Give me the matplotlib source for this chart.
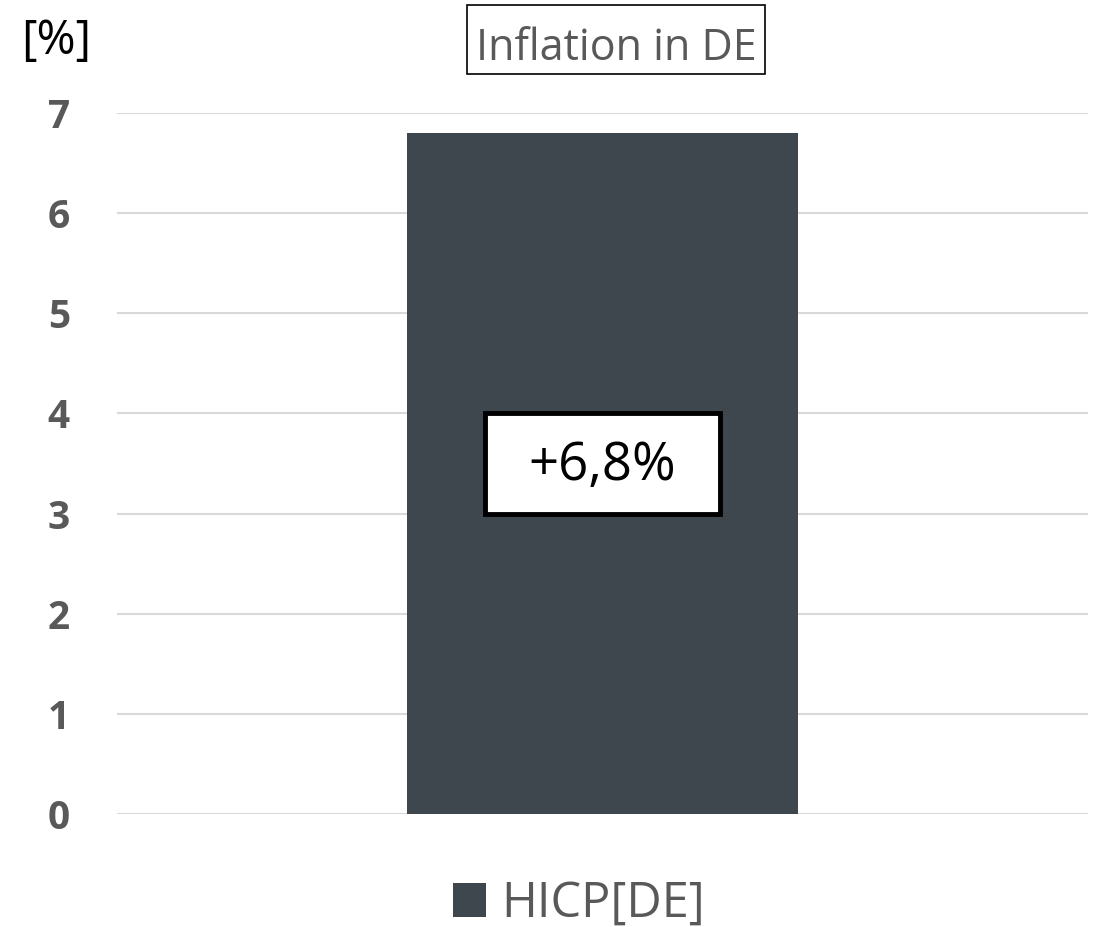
import matplotlib
matplotlib.use("Agg")
import matplotlib.pyplot as plt
from matplotlib.patches import Rectangle

plt.rcParams['font.family'] = ['Open Sans', 'DejaVu Sans']

categories = ["HICP[DE]"]
values = [6.8]
bar_label = "+6,8%"
yticks = [0, 1, 2, 3, 4, 5, 6, 7]
title = "Inflation in DE"
unit = "[%]"

bar_color = "#3d474d"
text_grey = "#595959"

W, H = 1102, 927
fig = plt.figure(figsize=(W/100, H/100), dpi=100)
ax = fig.add_axes([117/W, (H-814)/H, (1088-117)/W, (814-113)/H])

ax.bar([0], values, width=0.402, color=bar_color, zorder=2)
ax.set_xlim(-0.5, 0.5)
ax.set_ylim(0, 7)
ax.set_yticks(yticks)
ax.set_yticklabels([str(t) for t in yticks], fontsize=28, fontweight='bold', color=text_grey)
ax.tick_params(axis='y', length=0, pad=34)
ax.set_xticks([])
for s in ax.spines.values():
    s.set_visible(False)
ax.yaxis.grid(True, color="#d9d9d9", linewidth=1.5, zorder=0)
ax.set_axisbelow(True)

# value label in box
ax.add_patch(Rectangle((-0.121, 3.0), 0.242, 1.0, facecolor='white', edgecolor='black',
                       linewidth=3.5, zorder=3))
ax.text(0, 3.47, bar_label, ha='center', va='center', fontsize=38, color='black', zorder=4)

# title with box
fig.patches.append(Rectangle((467/W, 1-74/H), (765-467)/W, 69/H, transform=fig.transFigure,
                             facecolor='white', edgecolor='black', linewidth=1.2))
fig.text(616/W, 1-60/H, title, ha='center', va='baseline', fontsize=31, color=text_grey)

# unit
fig.text(56/W, 1-54/H, unit, ha='center', va='baseline', fontsize=34, color='black')

# legend
fig.patches.append(Rectangle((453/W, 1-917/H), 33/W, 34/H, transform=fig.transFigure,
                             facecolor=bar_color, edgecolor='none'))
fig.text(501/W, 1-917/H, categories[0], ha='left', va='baseline', fontsize=35, color=text_grey)

fig.savefig("out.png", dpi=100)
